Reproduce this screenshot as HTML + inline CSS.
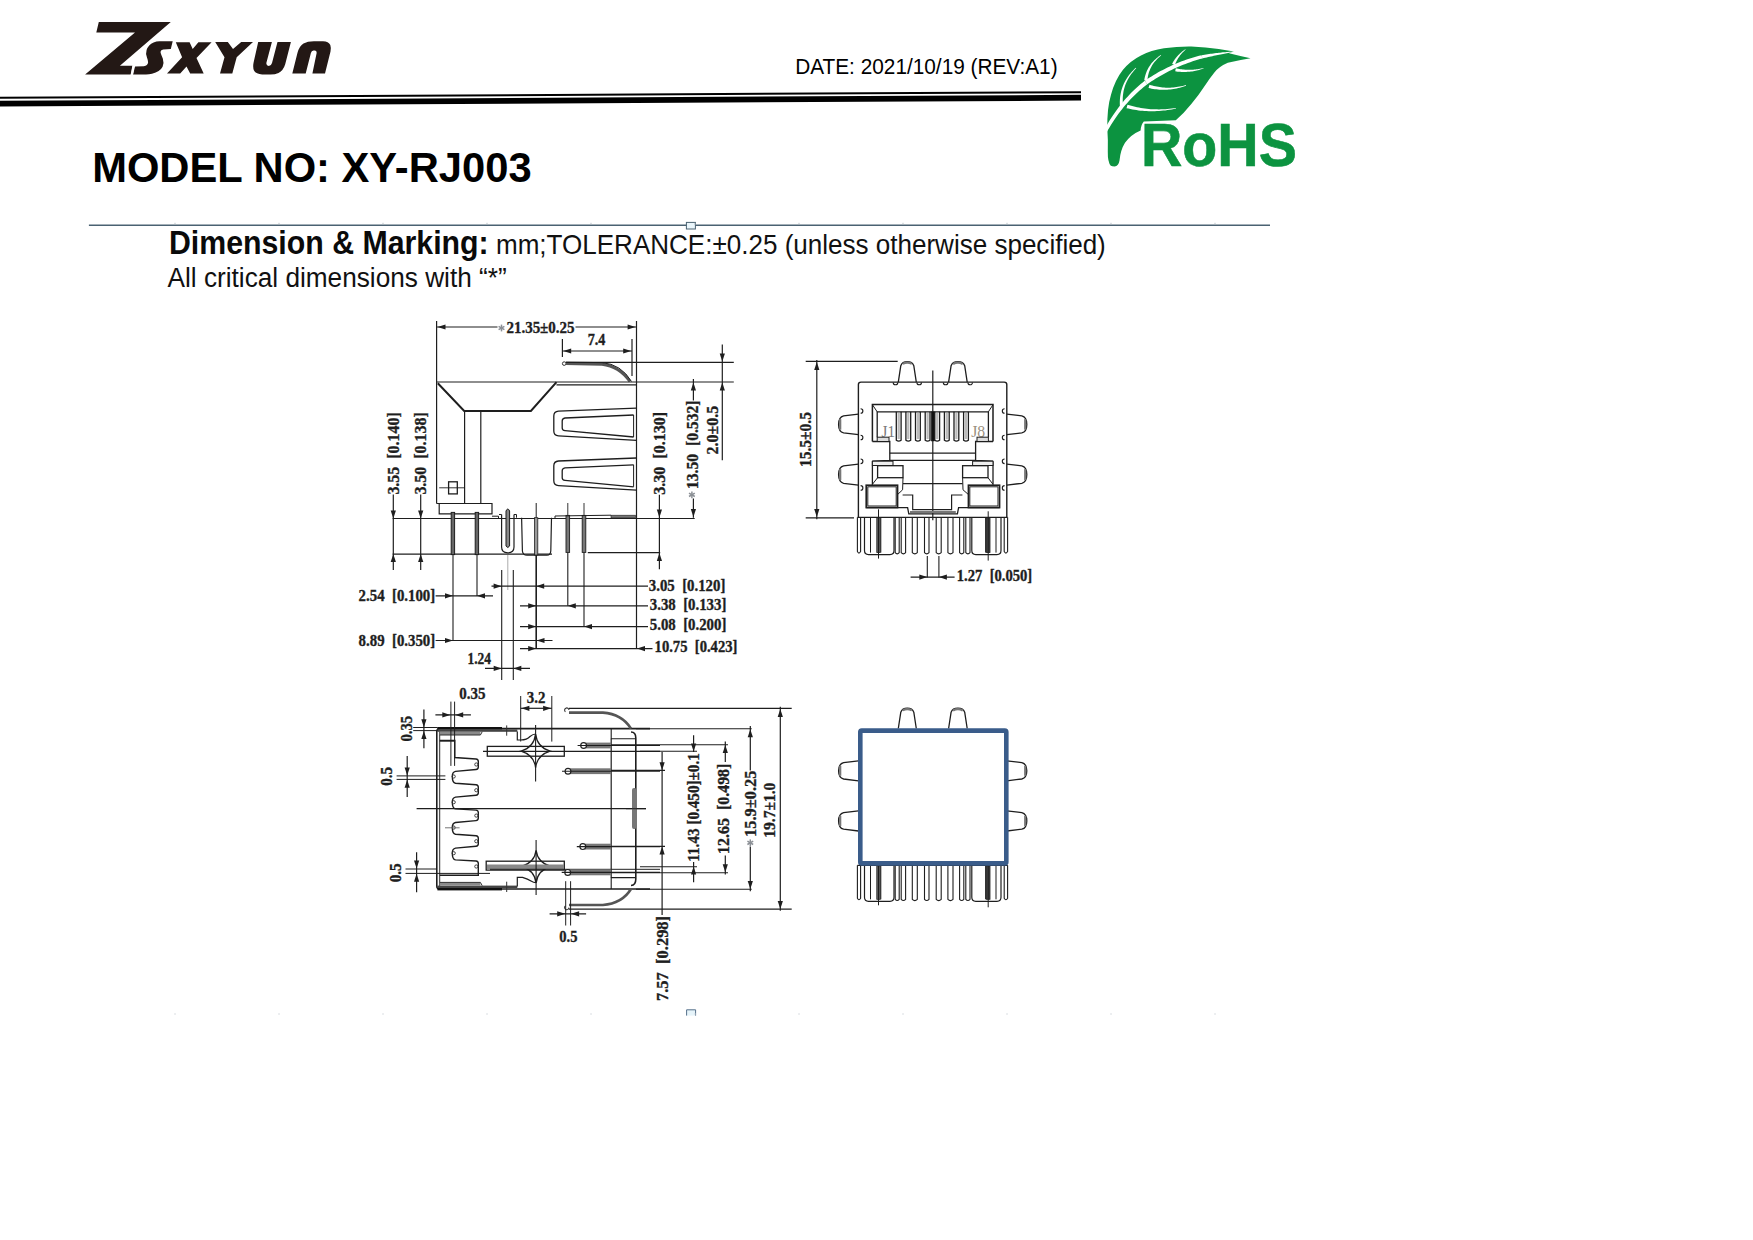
<!DOCTYPE html>
<html><head><meta charset="utf-8"><title>XY-RJ003</title>
<style>
html,body{margin:0;padding:0;background:#fff;}
body{width:1753px;height:1240px;position:relative;overflow:hidden;font-family:"Liberation Sans",sans-serif;}
svg{position:absolute;left:0;top:0;}
.t{position:absolute;white-space:nowrap;color:#000;line-height:1;}
</style></head><body>
<svg width="1753" height="1240" viewBox="0 0 1753 1240">
<polygon fill="#231815" points="98.8,21.9 170.8,21.9 119.9,65.8 132.6,65.8 130.9,74.6 85.1,74.6 135.0,32.5 96.3,32.5"/>
<polygon fill="#231815" points="175.8,42.2 189.6,42.2 192.7,49.1 198.4,42.2 211.6,42.2 196.5,57.9 203.7,73.6 190.2,73.6 186.5,66.4 180.2,73.6 167.0,73.6 182.1,57.3"/>
<polygon fill="#231815" points="215.2,42.0 227.8,42.0 233.0,49.1 241.2,42.0 253.0,42.0 236.7,57.3 232.3,73.6 220.0,73.6 224.5,57.3"/>
<path fill="#231815" d="M159.5,41.3 L172.7,41.3 L170.8,49.1 L163.2,49.4 Q160.3,49.9 160.6,52.8 Q161.2,55 162.8,58.5 Q164.2,62.5 162.6,66.8 Q160,71.8 152,73.8 Q149,74.5 146,74.5 L133.1,74.5 L135.0,66.4 L143.8,66.2 Q147.8,65.6 148.1,62.6 Q148,60 146.9,57.2 Q145.5,53.5 146.6,50 Q148.3,44.8 153.6,42.5 Q156.3,41.4 159.5,41.3 Z"/>
<path fill="#231815" d="M258.2,42.0 L271.9,42.0 L266.4,62.8 Q266,65.8 268.8,65.9 Q271.3,65.8 272,63 L277.5,42.0 L290.9,42.0 L285.2,64.3 Q283.4,70.5 278.5,72.9 Q275,74.4 270.5,74.4 L262.2,74.4 Q256.2,74.2 254,70.5 Q252.6,67.5 253.6,62.5 Z"/>
<path fill="#231815" d="M292.3,73.6 L297.5,52.8 Q299.5,46 303.5,43.6 Q307.5,41.3 313.9,41.3 L323.0,41.3 Q328.6,41.5 330.3,45 Q331.3,48 330.5,51.5 L325.0,73.6 L312.4,73.6 L316.6,53.2 Q316.9,50.6 314.6,50.6 L313.5,50.6 Q311.5,50.7 310.9,53 L305.7,73.6 Z"/>
<polygon fill="#fff" points="132.4,65.6 134.6,65.6 132.8,75 130.6,75"/>
<polygon fill="#000" points="0,96.8 1081,91.2 1081,93.2 0,98.8"/>
<polygon fill="#000" points="0,100.8 1081,94.8 1081,100.6 0,106.4"/>
<path fill="#0c9340" d="M1110.8,165.8 Q1107.6,162 1107.8,152 Q1108.2,140 1107.3,128.5 Q1107,108 1111,94.8 Q1115,80 1122.8,70.1 Q1130,61 1141,55.5 Q1151,50 1164,48.2 Q1178,46.2 1191.3,46.4 Q1206,47 1218.7,49.1 Q1226,50.5 1234,51.6 L1229,53.2 Q1238,55.5 1250.5,58.2 Q1239,60 1227.8,62.8 Q1219,66.5 1214,72.9 Q1209,79 1205,85.6 Q1199,95 1191.3,103.9 Q1184,113 1175.8,120.3 L1143.8,121.5 Q1141,124.5 1140.6,130.5 Q1131,134.5 1125,142.8 Q1120.5,150 1119.5,160.5 Q1118.6,166.2 1114.6,166.4 Q1112,166.4 1110.8,165.8 Z"/>
<polygon fill="#ffffff" points="1106.99,131.82 1108.38,129.37 1109.80,126.96 1111.24,124.59 1112.71,122.27 1114.20,119.98 1115.72,117.74 1117.26,115.53 1118.83,113.36 1120.42,111.24 1122.04,109.16 1123.68,107.11 1125.35,105.11 1127.05,103.15 1128.76,101.22 1130.51,99.34 1132.27,97.50 1134.07,95.70 1135.88,93.93 1137.73,92.21 1139.59,90.53 1141.49,88.89 1143.40,87.29 1145.35,85.72 1147.31,84.20 1144.69,80.80 1142.68,82.40 1140.70,84.04 1138.75,85.72 1136.82,87.44 1134.92,89.20 1133.05,91.00 1131.21,92.84 1129.39,94.72 1127.60,96.64 1125.84,98.60 1124.11,100.60 1122.40,102.64 1120.72,104.72 1119.06,106.84 1117.44,108.99 1115.84,111.19 1114.26,113.43 1112.72,115.70 1111.20,118.02 1109.71,120.37 1108.24,122.76 1106.81,125.20 1105.39,127.67 1104.01,130.18"/>
<polygon fill="#ffffff" points="1147.22,84.27 1149.36,82.79 1151.51,81.34 1153.68,79.93 1155.86,78.56 1158.05,77.22 1160.26,75.91 1162.48,74.64 1164.72,73.41 1166.97,72.21 1169.23,71.05 1171.51,69.92 1173.80,68.82 1176.11,67.77 1178.43,66.74 1180.77,65.76 1183.11,64.80 1185.48,63.88 1187.86,63.00 1190.25,62.15 1192.65,61.34 1195.07,60.57 1197.51,59.82 1199.96,59.12 1202.42,58.45 1201.58,55.15 1199.06,55.80 1196.55,56.49 1194.05,57.21 1191.57,57.96 1189.10,58.76 1186.64,59.59 1184.20,60.45 1181.77,61.35 1179.36,62.29 1176.96,63.27 1174.57,64.28 1172.20,65.33 1169.84,66.41 1167.49,67.53 1165.16,68.69 1162.84,69.88 1160.53,71.11 1158.24,72.37 1155.96,73.68 1153.70,75.02 1151.45,76.39 1149.21,77.80 1146.99,79.25 1144.78,80.73"/>
<polygon fill="#ffffff" points="1202.33,58.47 1203.81,58.11 1205.27,57.77 1206.72,57.43 1208.16,57.09 1209.58,56.77 1210.99,56.45 1212.38,56.14 1213.76,55.84 1215.13,55.55 1216.48,55.26 1217.82,54.98 1219.15,54.71 1220.46,54.45 1221.76,54.19 1223.05,53.95 1224.32,53.70 1225.58,53.47 1226.83,53.24 1228.06,53.03 1229.28,52.82 1230.49,52.61 1231.68,52.42 1232.86,52.23 1234.02,52.05 1233.98,51.55 1232.79,51.61 1231.60,51.68 1230.39,51.76 1229.16,51.84 1227.92,51.93 1226.67,52.03 1225.40,52.14 1224.12,52.25 1222.82,52.37 1221.51,52.50 1220.19,52.64 1218.85,52.79 1217.50,52.94 1216.13,53.10 1214.75,53.27 1213.35,53.45 1211.94,53.63 1210.51,53.82 1209.07,54.02 1207.62,54.23 1206.15,54.44 1204.67,54.66 1203.18,54.90 1201.67,55.13"/>
<polygon fill="#ffffff" points="1123.09,105.86 1122.91,104.09 1122.79,102.34 1122.73,100.61 1122.74,98.91 1122.80,97.21 1122.93,95.54 1123.13,93.88 1123.38,92.24 1123.70,90.62 1124.08,89.01 1124.53,87.42 1125.04,85.85 1125.61,84.29 1126.25,82.75 1126.95,81.22 1127.72,79.72 1128.55,78.22 1129.45,76.75 1130.42,75.29 1131.45,73.85 1132.55,72.42 1133.71,71.01 1134.95,69.62 1136.24,68.25 1135.76,67.75 1134.37,69.06 1133.04,70.40 1131.78,71.77 1130.58,73.15 1129.44,74.57 1128.36,76.00 1127.34,77.46 1126.39,78.95 1125.50,80.46 1124.68,82.00 1123.91,83.56 1123.21,85.15 1122.58,86.77 1122.01,88.41 1121.50,90.07 1121.06,91.76 1120.69,93.47 1120.38,95.21 1120.14,96.97 1119.96,98.76 1119.85,100.57 1119.80,102.41 1119.82,104.26 1119.91,106.14"/>
<polygon fill="#ffffff" points="1147.39,80.67 1147.49,79.44 1147.63,78.22 1147.81,77.02 1148.04,75.83 1148.30,74.66 1148.60,73.51 1148.94,72.37 1149.32,71.25 1149.75,70.14 1150.21,69.05 1150.72,67.97 1151.26,66.91 1151.85,65.87 1152.49,64.84 1153.16,63.83 1153.88,62.83 1154.64,61.85 1155.44,60.88 1156.29,59.94 1157.18,59.00 1158.11,58.09 1159.09,57.19 1160.11,56.31 1161.18,55.44 1160.82,54.96 1159.68,55.75 1158.57,56.56 1157.50,57.39 1156.48,58.25 1155.48,59.13 1154.53,60.03 1153.62,60.95 1152.74,61.90 1151.91,62.87 1151.11,63.87 1150.35,64.89 1149.64,65.94 1148.96,67.00 1148.32,68.10 1147.72,69.21 1147.17,70.35 1146.65,71.52 1146.18,72.71 1145.74,73.92 1145.35,75.15 1145.00,76.41 1144.70,77.69 1144.43,79.00 1144.21,80.33"/>
<polygon fill="#ffffff" points="1174.89,65.07 1175.13,64.38 1175.38,63.69 1175.66,63.00 1175.95,62.32 1176.26,61.65 1176.58,60.97 1176.93,60.30 1177.29,59.64 1177.68,58.98 1178.08,58.32 1178.50,57.67 1178.94,57.02 1179.39,56.38 1179.87,55.74 1180.36,55.10 1180.87,54.47 1181.41,53.84 1181.96,53.22 1182.52,52.60 1183.11,51.99 1183.72,51.39 1184.35,50.78 1184.99,50.19 1185.65,49.60 1185.35,49.20 1184.61,49.72 1183.89,50.24 1183.19,50.77 1182.50,51.31 1181.83,51.86 1181.17,52.42 1180.53,52.98 1179.90,53.55 1179.30,54.13 1178.70,54.72 1178.13,55.32 1177.56,55.93 1177.02,56.55 1176.49,57.17 1175.98,57.81 1175.48,58.45 1175.00,59.10 1174.54,59.76 1174.09,60.43 1173.66,61.11 1173.25,61.80 1172.85,62.50 1172.48,63.21 1172.11,63.93"/>
<polygon fill="#ffffff" points="1148.53,87.93 1150.09,88.30 1151.64,88.63 1153.20,88.92 1154.76,89.16 1156.33,89.37 1157.89,89.53 1159.45,89.66 1161.01,89.74 1162.58,89.78 1164.14,89.79 1165.71,89.75 1167.27,89.67 1168.84,89.56 1170.41,89.40 1171.97,89.21 1173.54,88.97 1175.11,88.70 1176.67,88.38 1178.24,88.03 1179.81,87.64 1181.38,87.21 1182.95,86.74 1184.52,86.23 1186.09,85.69 1185.91,85.11 1184.32,85.55 1182.73,85.94 1181.15,86.29 1179.58,86.60 1178.01,86.87 1176.45,87.10 1174.90,87.30 1173.35,87.45 1171.81,87.57 1170.27,87.64 1168.75,87.68 1167.23,87.68 1165.71,87.63 1164.20,87.56 1162.70,87.44 1161.21,87.28 1159.72,87.09 1158.24,86.86 1156.76,86.58 1155.29,86.28 1153.83,85.93 1152.37,85.55 1150.92,85.13 1149.47,84.67"/>
<polygon fill="#ffffff" points="1126.50,108.13 1128.48,108.61 1130.46,109.05 1132.45,109.45 1134.44,109.81 1136.45,110.12 1138.46,110.40 1140.49,110.64 1142.51,110.84 1144.55,110.99 1146.60,111.11 1148.65,111.19 1150.71,111.22 1152.78,111.22 1154.85,111.18 1156.94,111.10 1159.03,110.98 1161.13,110.82 1163.24,110.62 1165.35,110.38 1167.48,110.10 1169.61,109.78 1171.75,109.43 1173.90,109.03 1176.05,108.60 1175.95,108.00 1173.78,108.31 1171.63,108.58 1169.48,108.81 1167.36,109.01 1165.24,109.16 1163.14,109.27 1161.05,109.34 1158.97,109.38 1156.91,109.37 1154.85,109.33 1152.82,109.25 1150.79,109.13 1148.78,108.97 1146.78,108.77 1144.79,108.53 1142.82,108.25 1140.86,107.94 1138.91,107.59 1136.98,107.20 1135.06,106.77 1133.15,106.30 1131.25,105.79 1129.37,105.25 1127.50,104.67"/>
<polygon fill="#ffffff" points="1175.21,71.37 1176.45,71.54 1177.69,71.67 1178.93,71.79 1180.16,71.87 1181.38,71.93 1182.60,71.97 1183.82,71.98 1185.03,71.97 1186.23,71.93 1187.43,71.87 1188.62,71.79 1189.80,71.67 1190.98,71.54 1192.16,71.38 1193.33,71.19 1194.49,70.98 1195.64,70.75 1196.79,70.49 1197.94,70.21 1199.08,69.90 1200.21,69.57 1201.34,69.22 1202.46,68.84 1203.58,68.44 1203.42,67.96 1202.29,68.25 1201.15,68.52 1200.01,68.76 1198.87,68.98 1197.72,69.17 1196.58,69.33 1195.44,69.48 1194.29,69.60 1193.14,69.69 1192.00,69.76 1190.85,69.81 1189.70,69.83 1188.55,69.82 1187.39,69.80 1186.24,69.75 1185.09,69.67 1183.93,69.57 1182.77,69.45 1181.61,69.31 1180.45,69.14 1179.29,68.95 1178.13,68.73 1176.96,68.49 1175.79,68.23"/>
<text x="1140.9" y="166.1" font-family="Liberation Sans" font-weight="bold" font-size="61.2" fill="#0c9340" stroke="#0c9340" stroke-width="0.6" textLength="156" lengthAdjust="spacingAndGlyphs">RoHS</text>
<text x="795.2" y="74.3" font-family="Liberation Sans" font-weight="normal" font-size="20.8" fill="#000" transform="matrix(1,0,0,1.04,0,-2.972)">DATE: 2021/10/19 (REV:A1)</text>
<text x="92.2" y="182.0" font-family="Liberation Sans" font-weight="bold" font-size="41.7" fill="#000" transform="matrix(1,0,0,1.04,0,-7.280)">MODEL NO: XY-RJ003</text>
<text x="169.0" y="253.6" font-family="Liberation Sans" font-weight="bold" font-size="30.3" fill="#0a0a0a" transform="matrix(1,0,0,1.08,0,-20.288)">Dimension &amp; Marking:</text>
<text x="496.0" y="254.0" font-family="Liberation Sans" font-weight="normal" font-size="26.05" fill="#111" transform="matrix(1,0,0,1.05,0,-12.700)">mm;TOLERANCE:±0.25 (unless otherwise specified)</text>
<text x="167.5" y="287.3" font-family="Liberation Sans" font-weight="normal" font-size="26.2" fill="#111" transform="matrix(1,0,0,1.05,0,-14.365)">All critical dimensions with “*”</text>
<line x1="88.9" y1="225.3" x2="1270" y2="225.3" stroke="#4a6272" stroke-width="1.6"/>
<rect x="686.4" y="222.4" width="9" height="6.6" fill="#eaf6fb" stroke="#4a6272" stroke-width="1"/>
<path d="M686.6,1015.6 L686.6,1009.8 L695.6,1009.8 L695.6,1015.6" fill="#e6f4fa" stroke="#55708a" stroke-width="1"/>
<line x1="175" y1="222.8" x2="175" y2="225" stroke="#aab4bb" stroke-width="0.8"/>
<line x1="175" y1="1013" x2="175" y2="1015" stroke="#d0d6da" stroke-width="0.8"/>
<line x1="279" y1="222.8" x2="279" y2="225" stroke="#aab4bb" stroke-width="0.8"/>
<line x1="279" y1="1013" x2="279" y2="1015" stroke="#d0d6da" stroke-width="0.8"/>
<line x1="383" y1="222.8" x2="383" y2="225" stroke="#aab4bb" stroke-width="0.8"/>
<line x1="383" y1="1013" x2="383" y2="1015" stroke="#d0d6da" stroke-width="0.8"/>
<line x1="487" y1="222.8" x2="487" y2="225" stroke="#aab4bb" stroke-width="0.8"/>
<line x1="487" y1="1013" x2="487" y2="1015" stroke="#d0d6da" stroke-width="0.8"/>
<line x1="591" y1="222.8" x2="591" y2="225" stroke="#aab4bb" stroke-width="0.8"/>
<line x1="591" y1="1013" x2="591" y2="1015" stroke="#d0d6da" stroke-width="0.8"/>
<line x1="695" y1="222.8" x2="695" y2="225" stroke="#aab4bb" stroke-width="0.8"/>
<line x1="695" y1="1013" x2="695" y2="1015" stroke="#d0d6da" stroke-width="0.8"/>
<line x1="799" y1="222.8" x2="799" y2="225" stroke="#aab4bb" stroke-width="0.8"/>
<line x1="799" y1="1013" x2="799" y2="1015" stroke="#d0d6da" stroke-width="0.8"/>
<line x1="903" y1="222.8" x2="903" y2="225" stroke="#aab4bb" stroke-width="0.8"/>
<line x1="903" y1="1013" x2="903" y2="1015" stroke="#d0d6da" stroke-width="0.8"/>
<line x1="1007" y1="222.8" x2="1007" y2="225" stroke="#aab4bb" stroke-width="0.8"/>
<line x1="1007" y1="1013" x2="1007" y2="1015" stroke="#d0d6da" stroke-width="0.8"/>
<line x1="1111" y1="222.8" x2="1111" y2="225" stroke="#aab4bb" stroke-width="0.8"/>
<line x1="1111" y1="1013" x2="1111" y2="1015" stroke="#d0d6da" stroke-width="0.8"/>
<line x1="1215" y1="222.8" x2="1215" y2="225" stroke="#aab4bb" stroke-width="0.8"/>
<line x1="1215" y1="1013" x2="1215" y2="1015" stroke="#d0d6da" stroke-width="0.8"/>
<line x1="436.6" y1="321.0" x2="436.6" y2="503.5" stroke="#1e1e1e" stroke-width="1.2"/>
<line x1="636.5" y1="321.0" x2="636.5" y2="648.6" stroke="#1e1e1e" stroke-width="1.2"/>
<line x1="436.6" y1="327.0" x2="497.5" y2="327.0" stroke="#1e1e1e" stroke-width="1.2"/>
<line x1="575.5" y1="327.0" x2="636.5" y2="327.0" stroke="#1e1e1e" stroke-width="1.2"/>
<polygon points="437.5,327.0 445.5,324.4 445.5,329.6" fill="#1e1e1e"/>
<polygon points="635.6,327.0 627.6,329.6 627.6,324.4" fill="#1e1e1e"/>
<text x="506.4" y="332.8" font-family="Liberation Serif" font-weight="bold" font-size="16.6" fill="#1e1e1e" stroke="#1e1e1e" stroke-width="0.35" text-anchor="start" textLength="68.2" lengthAdjust="spacingAndGlyphs">21.35±0.25</text>
<line x1="501.5" y1="324.6" x2="501.5" y2="331.4" stroke="#8c9096" stroke-width="1.5"/>
<line x1="498.6" y1="326.3" x2="504.4" y2="329.7" stroke="#8c9096" stroke-width="1.5"/>
<line x1="504.4" y1="326.3" x2="498.6" y2="329.7" stroke="#8c9096" stroke-width="1.5"/>
<line x1="562.4" y1="339.0" x2="562.4" y2="357.0" stroke="#1e1e1e" stroke-width="1.2"/>
<line x1="632.0" y1="339.0" x2="632.0" y2="376.0" stroke="#1e1e1e" stroke-width="1.2"/>
<line x1="562.4" y1="351.0" x2="632.0" y2="351.0" stroke="#1e1e1e" stroke-width="1.2"/>
<polygon points="563.2,351.0 571.2,348.4 571.2,353.6" fill="#1e1e1e"/>
<polygon points="631.2,351.0 623.2,353.6 623.2,348.4" fill="#1e1e1e"/>
<text x="587.7" y="344.7" font-family="Liberation Serif" font-weight="bold" font-size="16.6" fill="#1e1e1e" stroke="#1e1e1e" stroke-width="0.35" text-anchor="start" textLength="17.6" lengthAdjust="spacingAndGlyphs">7.4</text>
<circle cx="564.2" cy="363.6" r="1.8" fill="none" stroke="#333" stroke-width="1"/>
<path d="M565.8,363.4 L602,364.2 Q619,366 630,381.5" fill="none" stroke="#555" stroke-width="3.0"/>
<path d="M565.8,362.2 L602,362.6 Q621,364 631.5,381.5" fill="none" stroke="#222" stroke-width="1"/>
<line x1="566.0" y1="362.3" x2="733.8" y2="362.3" stroke="#1e1e1e" stroke-width="1.2"/>
<line x1="436.6" y1="382.0" x2="733.8" y2="382.0" stroke="#1e1e1e" stroke-width="1.2"/>
<line x1="556.5" y1="384.9" x2="636.5" y2="384.9" stroke="#1e1e1e" stroke-width="1.2"/>
<polyline points="437.8,383.3 464.2,411.0 530.9,411.0 556.5,382.2" fill="none" stroke="#1e1e1e" stroke-width="2.0"/>
<line x1="464.6" y1="411.0" x2="464.6" y2="503.5" stroke="#1e1e1e" stroke-width="1.2"/>
<line x1="480.8" y1="411.0" x2="480.8" y2="503.5" stroke="#1e1e1e" stroke-width="1.2"/>
<polyline points="436.6,503.5 492.0,503.5 492.0,513.8 439.2,513.8 439.2,503.5" fill="none" stroke="#1e1e1e" stroke-width="1.2"/>
<rect x="448.6" y="481.8" width="8.7" height="12.1" fill="none" stroke="#1e1e1e" stroke-width="1.3"/>
<line x1="448.6" y1="487.8" x2="457.3" y2="487.8" stroke="#1e1e1e" stroke-width="0.9"/>
<line x1="439.2" y1="487.8" x2="448.6" y2="487.8" stroke="#1e1e1e" stroke-width="0.9"/>
<line x1="457.3" y1="487.8" x2="464.3" y2="487.8" stroke="#1e1e1e" stroke-width="0.9"/>
<path d="M636.5,408.2 L558.5,411.2 Q553.8,411.6 553.8,416 L553.8,431 Q553.8,435.6 558.5,435.8 L636.5,440.3" fill="none" stroke="#1e1e1e" stroke-width="1.3"/>
<path d="M633.6,415 L565,418 Q562.2,418.4 562.2,421 L562.2,428 Q562.2,430.4 565,430.6 L633.6,437" fill="none" stroke="#1e1e1e" stroke-width="1.3"/>
<line x1="633.6" y1="415.0" x2="633.6" y2="437.0" stroke="#1e1e1e" stroke-width="1"/>
<path d="M636.5,458.0 L558.5,461.0 Q553.8,461.40000000000003 553.8,465.8 L553.8,480.8 Q553.8,485.40000000000003 558.5,485.6 L636.5,490.1" fill="none" stroke="#1e1e1e" stroke-width="1.3"/>
<path d="M633.6,464.8 L565,467.8 Q562.2,468.2 562.2,470.8 L562.2,477.8 Q562.2,480.2 565,480.40000000000003 L633.6,486.8" fill="none" stroke="#1e1e1e" stroke-width="1.3"/>
<line x1="633.6" y1="464.8" x2="633.6" y2="486.8" stroke="#1e1e1e" stroke-width="1"/>
<line x1="693.4" y1="379.0" x2="693.4" y2="400.5" stroke="#1e1e1e" stroke-width="1.2"/>
<line x1="693.4" y1="498.5" x2="693.4" y2="517.7" stroke="#1e1e1e" stroke-width="1.2"/>
<polygon points="693.4,382.5 696.0,390.5 690.8,390.5" fill="#1e1e1e"/>
<polygon points="693.4,517.0 690.8,509.0 696.0,509.0" fill="#1e1e1e"/>
<text x="698.4" y="489.0" font-family="Liberation Serif" font-weight="bold" font-size="16.6" fill="#1e1e1e" stroke="#1e1e1e" stroke-width="0.35" textLength="88.5" lengthAdjust="spacingAndGlyphs" transform="rotate(-90 698.4 489.0)">13.50&#160;&#160;[0.532]</text>
<line x1="691.9" y1="491.4" x2="691.9" y2="498.2" stroke="#8c9096" stroke-width="1.5"/>
<line x1="689.0" y1="493.1" x2="694.8" y2="496.5" stroke="#8c9096" stroke-width="1.5"/>
<line x1="694.8" y1="493.1" x2="689.0" y2="496.5" stroke="#8c9096" stroke-width="1.5"/>
<line x1="722.3" y1="344.6" x2="722.3" y2="460.3" stroke="#1e1e1e" stroke-width="1.2"/>
<polygon points="722.3,361.5 719.7,353.5 724.9,353.5" fill="#1e1e1e"/>
<polygon points="722.3,382.5 724.9,390.5 719.7,390.5" fill="#1e1e1e"/>
<text x="717.7" y="454.4" font-family="Liberation Serif" font-weight="bold" font-size="16.6" fill="#1e1e1e" stroke="#1e1e1e" stroke-width="0.35" textLength="48.7" lengthAdjust="spacingAndGlyphs" transform="rotate(-90 717.7 454.4)">2.0±0.5</text>
<line x1="659.4" y1="494.7" x2="659.4" y2="569.3" stroke="#1e1e1e" stroke-width="1.2"/>
<polygon points="659.4,517.5 656.8,509.5 662.0,509.5" fill="#1e1e1e"/>
<polygon points="659.4,553.0 662.0,561.0 656.8,561.0" fill="#1e1e1e"/>
<text x="664.7" y="494.7" font-family="Liberation Serif" font-weight="bold" font-size="16.6" fill="#1e1e1e" stroke="#1e1e1e" stroke-width="0.35" textLength="82.7" lengthAdjust="spacingAndGlyphs" transform="rotate(-90 664.7 494.7)">3.30&#160;&#160;[0.130]</text>
<line x1="393.3" y1="494.6" x2="393.3" y2="570.0" stroke="#1e1e1e" stroke-width="1.2"/>
<polygon points="393.3,518.5 390.7,510.5 395.9,510.5" fill="#1e1e1e"/>
<polygon points="393.3,554.0 395.9,562.0 390.7,562.0" fill="#1e1e1e"/>
<text x="398.6" y="494.6" font-family="Liberation Serif" font-weight="bold" font-size="16.6" fill="#1e1e1e" stroke="#1e1e1e" stroke-width="0.35" textLength="82.3" lengthAdjust="spacingAndGlyphs" transform="rotate(-90 398.6 494.6)">3.55&#160;&#160;[0.140]</text>
<line x1="420.7" y1="494.6" x2="420.7" y2="570.0" stroke="#1e1e1e" stroke-width="1.2"/>
<polygon points="420.7,518.5 418.1,510.5 423.3,510.5" fill="#1e1e1e"/>
<polygon points="420.7,554.0 423.3,562.0 418.1,562.0" fill="#1e1e1e"/>
<text x="426.0" y="494.6" font-family="Liberation Serif" font-weight="bold" font-size="16.6" fill="#1e1e1e" stroke="#1e1e1e" stroke-width="0.35" textLength="82.3" lengthAdjust="spacingAndGlyphs" transform="rotate(-90 426.0 494.6)">3.50&#160;&#160;[0.138]</text>
<line x1="392.6" y1="518.5" x2="694.7" y2="518.5" stroke="#1e1e1e" stroke-width="1.2"/>
<line x1="392.6" y1="554.2" x2="552.0" y2="554.2" stroke="#1e1e1e" stroke-width="1.2"/>
<line x1="587.8" y1="552.6" x2="660.2" y2="552.6" stroke="#1e1e1e" stroke-width="1.2"/>
<rect x="611.0" y="515.2" width="24.5" height="2.6" fill="#777" stroke="#1e1e1e" stroke-width="0.6"/>
<rect x="451.2" y="512.4" width="3.4" height="42.2" fill="#666" stroke="#1e1e1e" stroke-width="1"/>
<rect x="475.2" y="512.4" width="3.4" height="42.2" fill="#666" stroke="#1e1e1e" stroke-width="1"/>
<path d="M501.6,514.5 L501.6,547 Q501.6,552.8 507.8,552.8 Q514,552.8 514,547 L514,514.5" fill="none" stroke="#1e1e1e" stroke-width="1.2"/>
<path d="M506,511 L506,546 Q507.8,549 509.6,546 L509.6,511 Q507.8,507 506,511 Z" fill="#888" stroke="#1e1e1e" stroke-width="1"/>
<path d="M499,514.5 L501.6,514.5 M514,514.5 L516.5,514.5 L516.5,517.7" fill="none" stroke="#1e1e1e" stroke-width="1"/>
<path d="M521.6,517.7 L522.4,551 Q522.8,555.2 527,555.2 L547,555.2 Q550.5,555.2 550.8,551 L551.5,517.7" fill="none" stroke="#1e1e1e" stroke-width="1.2"/>
<line x1="536.2" y1="503.0" x2="536.2" y2="555.0" stroke="#1e1e1e" stroke-width="1.0"/>
<rect x="534.6" y="517.7" width="3.2" height="37.3" fill="#999" stroke="#1e1e1e" stroke-width="0.8"/>
<line x1="536.2" y1="555.0" x2="536.2" y2="648.6" stroke="#1e1e1e" stroke-width="1.6"/>
<line x1="567.8" y1="503.0" x2="567.8" y2="515.4" stroke="#1e1e1e" stroke-width="0.9"/>
<rect x="566.0" y="515.4" width="3.6" height="37.0" fill="#777" stroke="#1e1e1e" stroke-width="0.9"/>
<line x1="584.0" y1="503.0" x2="584.0" y2="515.4" stroke="#1e1e1e" stroke-width="0.9"/>
<rect x="582.2" y="515.4" width="3.6" height="37.0" fill="#777" stroke="#1e1e1e" stroke-width="0.9"/>
<polyline points="492.0,516.2 498.5,516.2 498.5,518.5" fill="none" stroke="#1e1e1e" stroke-width="1"/>
<polyline points="555.0,518.5 555.0,516.0 611.0,515.2" fill="none" stroke="#1e1e1e" stroke-width="1"/>
<line x1="453.0" y1="555.0" x2="453.0" y2="640.5" stroke="#1e1e1e" stroke-width="1.1"/>
<line x1="477.0" y1="555.0" x2="477.0" y2="596.0" stroke="#1e1e1e" stroke-width="1.1"/>
<line x1="501.7" y1="570.0" x2="501.7" y2="680.0" stroke="#1e1e1e" stroke-width="1.1"/>
<line x1="513.3" y1="570.0" x2="513.3" y2="680.0" stroke="#1e1e1e" stroke-width="1.1"/>
<line x1="567.8" y1="552.4" x2="567.8" y2="605.8" stroke="#1e1e1e" stroke-width="1.1"/>
<line x1="584.0" y1="552.4" x2="584.0" y2="626.6" stroke="#1e1e1e" stroke-width="1.1"/>
<line x1="507.8" y1="555.0" x2="507.8" y2="590.0" stroke="#888" stroke-width="0.7"/>
<line x1="435.6" y1="595.8" x2="493.0" y2="595.8" stroke="#1e1e1e" stroke-width="1.2"/>
<polygon points="453.0,595.8 445.0,598.4 445.0,593.2" fill="#1e1e1e"/>
<polygon points="477.0,595.8 485.0,593.2 485.0,598.4" fill="#1e1e1e"/>
<text x="358.6" y="600.6" font-family="Liberation Serif" font-weight="bold" font-size="16.6" fill="#1e1e1e" stroke="#1e1e1e" stroke-width="0.35" text-anchor="start" textLength="76.6" lengthAdjust="spacingAndGlyphs">2.54&#160;&#160;[0.100]</text>
<line x1="435.6" y1="640.5" x2="552.5" y2="640.5" stroke="#1e1e1e" stroke-width="1.2"/>
<polygon points="453.0,640.5 445.0,643.1 445.0,637.9" fill="#1e1e1e"/>
<polygon points="536.5,640.5 544.5,637.9 544.5,643.1" fill="#1e1e1e"/>
<text x="358.6" y="645.5" font-family="Liberation Serif" font-weight="bold" font-size="16.6" fill="#1e1e1e" stroke="#1e1e1e" stroke-width="0.35" text-anchor="start" textLength="76.6" lengthAdjust="spacingAndGlyphs">8.89&#160;&#160;[0.350]</text>
<line x1="485.0" y1="668.4" x2="530.0" y2="668.4" stroke="#1e1e1e" stroke-width="1.2"/>
<polygon points="501.7,668.4 493.7,671.0 493.7,665.8" fill="#1e1e1e"/>
<polygon points="513.3,668.4 521.3,665.8 521.3,671.0" fill="#1e1e1e"/>
<text x="467.4" y="664.0" font-family="Liberation Serif" font-weight="bold" font-size="16.6" fill="#1e1e1e" stroke="#1e1e1e" stroke-width="0.35" text-anchor="start" textLength="23.6" lengthAdjust="spacingAndGlyphs">1.24</text>
<line x1="491.5" y1="586.2" x2="648.0" y2="586.2" stroke="#1e1e1e" stroke-width="1.2"/>
<polygon points="501.6,586.2 493.6,588.8 493.6,583.6" fill="#1e1e1e"/>
<polygon points="536.2,586.2 544.2,583.6 544.2,588.8" fill="#1e1e1e"/>
<text x="648.8" y="590.7" font-family="Liberation Serif" font-weight="bold" font-size="16.6" fill="#1e1e1e" stroke="#1e1e1e" stroke-width="0.35" text-anchor="start" textLength="76.6" lengthAdjust="spacingAndGlyphs">3.05&#160;&#160;[0.120]</text>
<line x1="520.0" y1="605.8" x2="648.0" y2="605.8" stroke="#1e1e1e" stroke-width="1.2"/>
<polygon points="536.2,605.8 528.2,608.4 528.2,603.2" fill="#1e1e1e"/>
<polygon points="567.8,605.8 575.8,603.2 575.8,608.4" fill="#1e1e1e"/>
<text x="649.8" y="610.0" font-family="Liberation Serif" font-weight="bold" font-size="16.6" fill="#1e1e1e" stroke="#1e1e1e" stroke-width="0.35" text-anchor="start" textLength="76.6" lengthAdjust="spacingAndGlyphs">3.38&#160;&#160;[0.133]</text>
<line x1="520.0" y1="626.6" x2="648.0" y2="626.6" stroke="#1e1e1e" stroke-width="1.2"/>
<polygon points="536.2,626.6 528.2,629.2 528.2,624.0" fill="#1e1e1e"/>
<polygon points="584.0,626.6 592.0,624.0 592.0,629.2" fill="#1e1e1e"/>
<text x="649.8" y="630.2" font-family="Liberation Serif" font-weight="bold" font-size="16.6" fill="#1e1e1e" stroke="#1e1e1e" stroke-width="0.35" text-anchor="start" textLength="76.6" lengthAdjust="spacingAndGlyphs">5.08&#160;&#160;[0.200]</text>
<line x1="520.0" y1="648.6" x2="652.5" y2="648.6" stroke="#1e1e1e" stroke-width="1.2"/>
<polygon points="536.2,648.6 528.2,651.2 528.2,646.0" fill="#1e1e1e"/>
<polygon points="637.0,648.6 645.0,646.0 645.0,651.2" fill="#1e1e1e"/>
<text x="654.6" y="652.4" font-family="Liberation Serif" font-weight="bold" font-size="16.6" fill="#1e1e1e" stroke="#1e1e1e" stroke-width="0.35" text-anchor="start" textLength="82.8" lengthAdjust="spacingAndGlyphs">10.75&#160;&#160;[0.423]</text>
<line x1="805.7" y1="361.3" x2="897.7" y2="361.3" stroke="#1e1e1e" stroke-width="1.2"/>
<line x1="805.7" y1="517.8" x2="854.0" y2="517.8" stroke="#1e1e1e" stroke-width="1.2"/>
<line x1="816.8" y1="360.0" x2="816.8" y2="519.3" stroke="#1e1e1e" stroke-width="1.2"/>
<polygon points="816.8,362.0 819.4,370.0 814.2,370.0" fill="#1e1e1e"/>
<polygon points="816.8,517.0 814.2,509.0 819.4,509.0" fill="#1e1e1e"/>
<text x="811.5" y="467.1" font-family="Liberation Serif" font-weight="bold" font-size="16.6" fill="#1e1e1e" stroke="#1e1e1e" stroke-width="0.35" textLength="55.1" lengthAdjust="spacingAndGlyphs" transform="rotate(-90 811.5 467.1)">15.5±0.5</text>
<path d="M858.4,517 L858.4,384.5 Q858.4,382.1 861,382.1 L1004.2,382.1 Q1006.8,382.1 1006.8,384.5 L1006.8,517" fill="none" stroke="#1e1e1e" stroke-width="1.4"/>
<path d="M898.3,382.1 L900.8,365.7 Q902.3,361.7 907.3,361.7 Q912.3,361.7 913.8,365.7 L916.3,382.1" fill="none" stroke="#1e1e1e" stroke-width="1.3"/>
<path d="M902.8,363.9 Q907.3,361.4 911.8,363.9" stroke="#777" stroke-width="2.2" fill="none"/>
<path d="M948.6,382.1 L951.1,365.7 Q952.6,361.7 957.9,361.7 Q963.2,361.7 964.7,365.7 L967.2,382.1" fill="none" stroke="#1e1e1e" stroke-width="1.3"/>
<path d="M953.1,363.9 Q957.9,361.4 962.7,363.9" stroke="#777" stroke-width="2.2" fill="none"/>
<path d="M893.2,382.5 A2.3,2.3 0 0 0 897.8,382.5" fill="none" stroke="#1e1e1e" stroke-width="1.1"/>
<path d="M916.9,382.5 A2.3,2.3 0 0 0 921.5,382.5" fill="none" stroke="#1e1e1e" stroke-width="1.1"/>
<path d="M943.3,382.5 A2.3,2.3 0 0 0 947.9,382.5" fill="none" stroke="#1e1e1e" stroke-width="1.1"/>
<path d="M967.9,382.5 A2.3,2.3 0 0 0 972.5,382.5" fill="none" stroke="#1e1e1e" stroke-width="1.1"/>
<path d="M858.4,414.1 L843.6,415.9 Q838.6,417.1 838.6,424.4 Q838.6,431.7 843.6,432.9 L858.4,434.7" fill="none" stroke="#1e1e1e" stroke-width="1.3"/>
<path d="M840.2,419.1 L840.2,429.7" stroke="#777" stroke-width="2.2" fill="none"/>
<path d="M858.4,464.1 L843.6,465.9 Q838.6,467.1 838.6,474.6 Q838.6,482.1 843.6,483.3 L858.4,485.1" fill="none" stroke="#1e1e1e" stroke-width="1.3"/>
<path d="M840.2,469.1 L840.2,480.1" stroke="#777" stroke-width="2.2" fill="none"/>
<path d="M1006.8,414.1 L1021.8,415.9 Q1026.8,417.1 1026.8,424.4 Q1026.8,431.7 1021.8,432.9 L1006.8,434.7" fill="none" stroke="#1e1e1e" stroke-width="1.3"/>
<path d="M1025.2,419.1 L1025.2,429.7" stroke="#777" stroke-width="2.2" fill="none"/>
<path d="M1006.8,464.1 L1021.8,465.9 Q1026.8,467.1 1026.8,474.6 Q1026.8,482.1 1021.8,483.3 L1006.8,485.1" fill="none" stroke="#1e1e1e" stroke-width="1.3"/>
<path d="M1025.2,469.1 L1025.2,480.1" stroke="#777" stroke-width="2.2" fill="none"/>
<path d="M860.6,408.7 A2.3,2.3 0 0 1 860.6,413.3" fill="none" stroke="#1e1e1e" stroke-width="1.1"/>
<path d="M1004.6,408.7 A2.3,2.3 0 0 0 1004.6,413.3" fill="none" stroke="#1e1e1e" stroke-width="1.1"/>
<path d="M860.6,435.2 A2.3,2.3 0 0 1 860.6,439.8" fill="none" stroke="#1e1e1e" stroke-width="1.1"/>
<path d="M1004.6,435.2 A2.3,2.3 0 0 0 1004.6,439.8" fill="none" stroke="#1e1e1e" stroke-width="1.1"/>
<path d="M860.6,459.0 A2.3,2.3 0 0 1 860.6,463.6" fill="none" stroke="#1e1e1e" stroke-width="1.1"/>
<path d="M1004.6,459.0 A2.3,2.3 0 0 0 1004.6,463.6" fill="none" stroke="#1e1e1e" stroke-width="1.1"/>
<path d="M860.6,485.6 A2.3,2.3 0 0 1 860.6,490.2" fill="none" stroke="#1e1e1e" stroke-width="1.1"/>
<path d="M1004.6,485.6 A2.3,2.3 0 0 0 1004.6,490.2" fill="none" stroke="#1e1e1e" stroke-width="1.1"/>
<line x1="932.8" y1="370.4" x2="932.8" y2="520.3" stroke="#1e1e1e" stroke-width="1.2"/>
<path d="M872.4,441.5 L872.4,404.5 L993.0,404.5 L993.0,441.5" fill="none" stroke="#1e1e1e" stroke-width="1.5"/>
<path d="M877.2,437.2 L877.2,411.8 L988.4,411.8 L988.4,437.2" fill="none" stroke="#1e1e1e" stroke-width="1.3"/>
<line x1="872.6" y1="405.0" x2="877.2" y2="411.8" stroke="#1e1e1e" stroke-width="1"/>
<line x1="992.8" y1="405.0" x2="988.4" y2="411.8" stroke="#1e1e1e" stroke-width="1"/>
<path d="M896.3,411.8 L896.3,440.2 Q898.7,442 901.1,440.2 L901.1,411.8" fill="none" stroke="#1e1e1e" stroke-width="1.3"/>
<rect x="897.6" y="413" width="2.2" height="26" fill="#bbb"/>
<path d="M905.9,411.8 L905.9,440.2 Q908.3,442 910.7,440.2 L910.7,411.8" fill="none" stroke="#1e1e1e" stroke-width="1.3"/>
<rect x="907.2" y="413" width="2.2" height="26" fill="#bbb"/>
<path d="M915.5,411.8 L915.5,440.2 Q917.9,442 920.3,440.2 L920.3,411.8" fill="none" stroke="#1e1e1e" stroke-width="1.3"/>
<rect x="916.8" y="413" width="2.2" height="26" fill="#bbb"/>
<path d="M925.2,411.8 L925.2,440.2 Q927.6,442 930.0,440.2 L930.0,411.8" fill="none" stroke="#1e1e1e" stroke-width="1.3"/>
<rect x="926.5" y="413" width="2.2" height="26" fill="#bbb"/>
<path d="M934.8,411.8 L934.8,440.2 Q937.2,442 939.6,440.2 L939.6,411.8" fill="none" stroke="#1e1e1e" stroke-width="1.3"/>
<rect x="936.1" y="413" width="2.2" height="26" fill="#bbb"/>
<path d="M944.4,411.8 L944.4,440.2 Q946.8,442 949.2,440.2 L949.2,411.8" fill="none" stroke="#1e1e1e" stroke-width="1.3"/>
<rect x="945.7" y="413" width="2.2" height="26" fill="#bbb"/>
<path d="M954.0,411.8 L954.0,440.2 Q956.4,442 958.8,440.2 L958.8,411.8" fill="none" stroke="#1e1e1e" stroke-width="1.3"/>
<rect x="955.3" y="413" width="2.2" height="26" fill="#bbb"/>
<path d="M963.6,411.8 L963.6,440.2 Q966.0,442 968.4,440.2 L968.4,411.8" fill="none" stroke="#1e1e1e" stroke-width="1.3"/>
<rect x="964.9" y="413" width="2.2" height="26" fill="#bbb"/>
<rect x="931.2" y="411.8" width="3.4" height="29.2" fill="#111" stroke="#1e1e1e" stroke-width="0.5"/>
<text x="881.6" y="436.6" font-family="Liberation Serif" font-weight="normal" font-size="16" fill="#7a7a7a" stroke="#7a7a7a" stroke-width="0" text-anchor="start" textLength="13.4" lengthAdjust="spacingAndGlyphs">J1</text>
<text x="971.2" y="436.6" font-family="Liberation Serif" font-weight="normal" font-size="16" fill="#9a9080" stroke="#9a9080" stroke-width="0" text-anchor="start" textLength="14" lengthAdjust="spacingAndGlyphs">J8</text>
<polyline points="872.4,441.5 889.8,441.5 889.8,460.5 872.4,461.2" fill="none" stroke="#1e1e1e" stroke-width="1.3"/>
<polyline points="993.0,441.5 975.6,441.5 975.6,460.5 993.0,461.2" fill="none" stroke="#1e1e1e" stroke-width="1.3"/>
<rect x="877.2" y="437.2" width="11.8" height="4.3" fill="#ddd" stroke="#1e1e1e" stroke-width="1.0"/>
<rect x="977.0" y="437.2" width="11.4" height="4.3" fill="#ddd" stroke="#1e1e1e" stroke-width="1.0"/>
<line x1="889.8" y1="453.2" x2="975.6" y2="453.2" stroke="#1e1e1e" stroke-width="1.2"/>
<line x1="889.8" y1="460.3" x2="975.6" y2="460.3" stroke="#1e1e1e" stroke-width="1.2"/>
<polyline points="872.4,461.2 872.4,484.8" fill="none" stroke="#1e1e1e" stroke-width="1.3"/>
<polyline points="993.0,461.2 993.0,484.8" fill="none" stroke="#1e1e1e" stroke-width="1.3"/>
<rect x="872.4" y="461.2" width="20.6" height="4.3" fill="#eee" stroke="#1e1e1e" stroke-width="1.0"/>
<rect x="972.6" y="461.2" width="20.4" height="4.3" fill="#eee" stroke="#1e1e1e" stroke-width="1.0"/>
<rect x="877.6" y="465.7" width="25.4" height="12.0" fill="none" stroke="#1e1e1e" stroke-width="1.3"/>
<rect x="962.6" y="465.7" width="25.4" height="12.0" fill="none" stroke="#1e1e1e" stroke-width="1.3"/>
<line x1="872.4" y1="484.3" x2="877.6" y2="477.7" stroke="#1e1e1e" stroke-width="1"/>
<line x1="993.0" y1="484.3" x2="988.0" y2="477.7" stroke="#1e1e1e" stroke-width="1"/>
<line x1="903.0" y1="483.7" x2="962.6" y2="483.7" stroke="#1e1e1e" stroke-width="1.2"/>
<rect x="866.2" y="485.2" width="31.4" height="22.4" fill="none" stroke="#1e1e1e" stroke-width="1.6"/>
<rect x="867.8" y="486.8" width="28.4" height="19.2" fill="none" stroke="#1e1e1e" stroke-width="1.0"/>
<rect x="968.4" y="485.2" width="31.2" height="22.4" fill="none" stroke="#1e1e1e" stroke-width="1.6"/>
<rect x="969.8" y="486.8" width="28.2" height="19.2" fill="none" stroke="#1e1e1e" stroke-width="1.0"/>
<polyline points="897.6,494.5 902.6,489.8 903.0,477.7" fill="none" stroke="#1e1e1e" stroke-width="1.0"/>
<polyline points="968.4,494.5 963.0,489.8 962.6,477.7" fill="none" stroke="#1e1e1e" stroke-width="1.0"/>
<polyline points="866.2,507.6 907.6,507.6 908.8,513.8 957.4,513.8 958.6,507.6 999.6,507.6" fill="none" stroke="#1e1e1e" stroke-width="1.3"/>
<polyline points="902.6,495.0 912.7,495.0 912.7,509.7 951.6,509.7 951.6,495.0 962.4,495.0" fill="none" stroke="#1e1e1e" stroke-width="1.2"/>
<line x1="910.0" y1="512.0" x2="955.8" y2="512.0" stroke="#777" stroke-width="2.2"/>
<line x1="857.5" y1="517.3" x2="1007.5" y2="517.3" stroke="#1e1e1e" stroke-width="1.2"/>
<path d="M857.4,517.3 L857.4,551.6 Q858.9,554.6 860.6,551.6 L860.6,517.3" fill="none" stroke="#1e1e1e" stroke-width="1.1"/>
<path d="M1004.2,517.3 L1004.2,551.6 Q1005.9,554.6 1007.6,551.6 L1007.6,517.3" fill="none" stroke="#1e1e1e" stroke-width="1.1"/>
<path d="M864.5,517.3 L864.5,550.6 Q864.5,554.6 868.5,554.6 L890.0,554.6 Q894.0,554.6 894.0,550.6 L894.0,517.3" fill="none" stroke="#1e1e1e" stroke-width="1.2"/>
<path d="M971.8,517.3 L971.8,550.6 Q971.8,554.6 975.8,554.6 L997.0,554.6 Q1001.0,554.6 1001.0,550.6 L1001.0,517.3" fill="none" stroke="#1e1e1e" stroke-width="1.2"/>
<line x1="870.5" y1="517.3" x2="870.5" y2="552.6" stroke="#1e1e1e" stroke-width="1.0"/>
<line x1="880.8" y1="517.3" x2="880.8" y2="552.6" stroke="#1e1e1e" stroke-width="1.0"/>
<line x1="996.0" y1="517.3" x2="996.0" y2="552.6" stroke="#1e1e1e" stroke-width="1.0"/>
<line x1="985.6" y1="517.3" x2="985.6" y2="552.6" stroke="#1e1e1e" stroke-width="1.0"/>
<rect x="876.8" y="517.8" width="3.4" height="34.8" fill="#666" stroke="#1e1e1e" stroke-width="0.8"/>
<rect x="986.5" y="517.8" width="3.5" height="34.8" fill="#444" stroke="#1e1e1e" stroke-width="0.8"/>
<line x1="878.5" y1="509.3" x2="878.5" y2="558.6" stroke="#1e1e1e" stroke-width="1.0"/>
<line x1="988.2" y1="511.3" x2="988.2" y2="560.6" stroke="#1e1e1e" stroke-width="1.0"/>
<path d="M895.2,517.3 L895.2,552.6 Q897.2,555.1 899.2,552.6 L899.2,517.3" fill="none" stroke="#1e1e1e" stroke-width="1.1"/>
<path d="M901.2,517.3 L901.2,552.6 Q903.4000000000001,555.1 905.6,552.6 L905.6,517.3" fill="none" stroke="#1e1e1e" stroke-width="1.1"/>
<path d="M912.3,517.3 L912.3,552.6 Q914.8,555.1 917.3,552.6 L917.3,517.3" fill="none" stroke="#1e1e1e" stroke-width="1.1"/>
<path d="M924.5,517.3 L924.5,552.6 Q926.75,555.1 929.0,552.6 L929.0,517.3" fill="none" stroke="#1e1e1e" stroke-width="1.1"/>
<path d="M936.2,517.3 L936.2,552.6 Q938.7,555.1 941.2,552.6 L941.2,517.3" fill="none" stroke="#1e1e1e" stroke-width="1.1"/>
<path d="M947.9,517.3 L947.9,552.6 Q950.45,555.1 953.0,552.6 L953.0,517.3" fill="none" stroke="#1e1e1e" stroke-width="1.1"/>
<path d="M959.6,517.3 L959.6,552.6 Q961.7,555.1 963.8,552.6 L963.8,517.3" fill="none" stroke="#1e1e1e" stroke-width="1.1"/>
<path d="M965.8,517.3 L965.8,552.6 Q967.9,555.1 970.0,552.6 L970.0,517.3" fill="none" stroke="#1e1e1e" stroke-width="1.1"/>
<line x1="927.3" y1="556.0" x2="927.3" y2="577.6" stroke="#1e1e1e" stroke-width="1.1"/>
<line x1="938.9" y1="556.0" x2="938.9" y2="577.6" stroke="#1e1e1e" stroke-width="1.1"/>
<line x1="910.6" y1="577.1" x2="954.6" y2="577.1" stroke="#1e1e1e" stroke-width="1.2"/>
<polygon points="927.3,577.1 919.3,579.7 919.3,574.5" fill="#1e1e1e"/>
<polygon points="938.9,577.1 946.9,574.5 946.9,579.7" fill="#1e1e1e"/>
<text x="956.8" y="581.4" font-family="Liberation Serif" font-weight="bold" font-size="16.6" fill="#1e1e1e" stroke="#1e1e1e" stroke-width="0.35" text-anchor="start" textLength="75.4" lengthAdjust="spacingAndGlyphs">1.27&#160;&#160;[0.050]</text>
<path d="M650,728.6 L439.8,728.6 Q436.8,728.6 436.8,731.6 L436.8,886 Q436.8,889 439.8,889 L650,889" fill="none" stroke="#1e1e1e" stroke-width="1.6"/>
<line x1="439.6" y1="731.5" x2="439.6" y2="886.0" stroke="#555" stroke-width="1.3"/>
<rect x="437.4" y="727.0" width="64.6" height="2.6" fill="#111"/>
<rect x="437.4" y="729.4" width="79.9" height="2.4" fill="#444"/>
<rect x="439.8" y="731.8" width="40.6" height="3.2" fill="#8a8a8a"/>
<path d="M439.8,735.0 L480.4,735.0 L482.2,731.8" fill="none" stroke="#333" stroke-width="1.0"/>
<line x1="506.7" y1="725.4" x2="506.7" y2="735.7" stroke="#333" stroke-width="1.0"/>
<rect x="437.4" y="887.8" width="64.6" height="2.6" fill="#111"/>
<rect x="437.4" y="885.6" width="79.9" height="2.4" fill="#444"/>
<rect x="439.8" y="882.4" width="40.6" height="3.2" fill="#8a8a8a"/>
<path d="M439.8,882.4 L480.4,882.4 L482.2,885.6" fill="none" stroke="#333" stroke-width="1.0"/>
<line x1="506.7" y1="892.0" x2="506.7" y2="881.7" stroke="#333" stroke-width="1.0"/>
<line x1="439.7" y1="741.1" x2="454.6" y2="741.1" stroke="#1e1e1e" stroke-width="1.2"/>
<path d="M517.3,731.4 L517.3,740 L520.7,740 Q527,740 530,736.5 Q533,734 535.6,734" fill="none" stroke="#1e1e1e" stroke-width="1.2"/>
<path d="M517.3,886.5 L517.3,877.4 L522.5,877.4 Q528,879 531,881 Q533.5,882.6 536,882.6" fill="none" stroke="#1e1e1e" stroke-width="1.2"/>
<path d="M535.6,734.1 Q537.1,747.1 550.1,751.1 Q537.1,755.1 535.6,767.6 Q534.1,755.1 521.1,751.1 Q534.1,747.1 535.6,734.1 Z" fill="none" stroke="#1e1e1e" stroke-width="1.3"/>
<path d="M536.1,850.3 Q537.6,862.3 550.6,866.3 Q537.6,870.3 536.1,882.8 Q534.6,870.3 521.6,866.3 Q534.6,862.3 536.1,850.3 Z" fill="none" stroke="#1e1e1e" stroke-width="1.3"/>
<rect x="487.3" y="746.4" width="77.0" height="9.8" fill="none" stroke="#1e1e1e" stroke-width="1.3"/>
<line x1="483.0" y1="751.3" x2="660.0" y2="751.3" stroke="#1e1e1e" stroke-width="1.2"/>
<rect x="486.2" y="861.2" width="78.1" height="8.9" fill="none" stroke="#1e1e1e" stroke-width="1.3"/>
<rect x="487" y="864.5" width="77" height="4.5" fill="#888"/>
<line x1="535.6" y1="725.0" x2="535.6" y2="781.5" stroke="#1e1e1e" stroke-width="1.1"/>
<line x1="536.1" y1="840.0" x2="536.1" y2="895.0" stroke="#1e1e1e" stroke-width="1.1"/>
<line x1="490.0" y1="869.3" x2="660.0" y2="869.3" stroke="#1e1e1e" stroke-width="1.0"/>
<line x1="416.6" y1="808.7" x2="646.0" y2="808.7" stroke="#1e1e1e" stroke-width="1.2"/>
<path d="M439.8,740.4 L454.8,740.4 L454.8,757.5 L476,759.0 Q478.3,759.3 478.3,761.5 L478.3,767.0 Q478.3,769.3 476,769.5 L455.5,771.4 Q452.3,772.0 452.3,776.5 Q452.3,782.7 455.5,783.2 L476,784.7 Q478.3,785.0 478.3,787.2 L478.3,792.7 Q478.3,795.0 476,795.2 L455.5,797.1 Q452.3,797.7 452.3,802.2 Q452.3,808.4 455.5,808.9 L476,810.1 Q478.3,810.4 478.3,812.6 L478.3,818.1 Q478.3,820.4 476,820.6 L455.5,822.5 Q452.3,823.1 452.3,827.6 Q452.3,833.8 455.5,834.3 L476,835.7 Q478.3,836.0 478.3,838.2 L478.3,843.7 Q478.3,846.0 476,846.2 L455.5,848.1 Q452.3,848.7 452.3,853.2 Q452.3,859.4 455.5,859.9 L476,861.0 Q478.3,861.3 478.3,863.5 L478.3,875.3 L439.8,875.3" fill="none" stroke="#1e1e1e" stroke-width="1.4"/>
<circle cx="476.3" cy="764.5" r="1.6" fill="none" stroke="#333" stroke-width="0.9"/>
<circle cx="476.3" cy="790.2" r="1.6" fill="none" stroke="#333" stroke-width="0.9"/>
<circle cx="476.3" cy="815.6" r="1.6" fill="none" stroke="#333" stroke-width="0.9"/>
<circle cx="476.3" cy="841.2" r="1.6" fill="none" stroke="#333" stroke-width="0.9"/>
<circle cx="476.3" cy="866.5" r="1.6" fill="none" stroke="#333" stroke-width="0.9"/>
<circle cx="453.7" cy="776.5" r="1.6" fill="none" stroke="#333" stroke-width="0.9"/>
<circle cx="453.7" cy="802.2" r="1.6" fill="none" stroke="#333" stroke-width="0.9"/>
<circle cx="453.7" cy="827.6" r="1.6" fill="none" stroke="#333" stroke-width="0.9"/>
<circle cx="453.7" cy="853.2" r="1.6" fill="none" stroke="#333" stroke-width="0.9"/>
<line x1="445.0" y1="827.8" x2="459.6" y2="827.8" stroke="#666" stroke-width="0.9"/>
<path d="M611.2,889 L611.2,877.6 L635.8,877.6" fill="none" stroke="#1e1e1e" stroke-width="1.1"/>
<path d="M611.2,728.6 L611.2,738.7 L635.8,738.7" fill="none" stroke="#1e1e1e" stroke-width="1.1"/>
<line x1="611.2" y1="738.7" x2="611.2" y2="877.6" stroke="#1e1e1e" stroke-width="1.2"/>
<path d="M631,732 Q635.8,732 635.8,738 L635.8,879 Q635.8,885.5 631,885.5" fill="none" stroke="#1e1e1e" stroke-width="1.6"/>
<rect x="632" y="788" width="4.5" height="41" rx="2" fill="#777"/>
<line x1="626.0" y1="808.7" x2="646.0" y2="808.7" stroke="#1e1e1e" stroke-width="1.0"/>
<path d="M569,712.6 L602.9,712.6 Q622,714 631,728.6" fill="none" stroke="#555" stroke-width="2.6"/>
<path d="M565.4,711.8 A2.2,2.2 0 1 1 569,710" fill="none" stroke="#333" stroke-width="1.1"/>
<line x1="569.0" y1="708.4" x2="791.7" y2="708.4" stroke="#1e1e1e" stroke-width="1.3"/>
<path d="M569,905 L602.9,905 Q622,903.6 631,889" fill="none" stroke="#555" stroke-width="2.6"/>
<path d="M565.4,905.8 A2.2,2.2 0 1 0 569,907.6" fill="none" stroke="#333" stroke-width="1.1"/>
<line x1="569.0" y1="909.2" x2="791.7" y2="909.2" stroke="#1e1e1e" stroke-width="1.3"/>
<rect x="585.6" y="742.6" width="25.6" height="5.8" fill="#777"/>
<circle cx="583.6" cy="745.5" r="2.9" fill="#fff" stroke="#222" stroke-width="1.2"/>
<line x1="577.6" y1="745.5" x2="660.0" y2="745.5" stroke="#1e1e1e" stroke-width="1.1"/>
<rect x="570.0" y="768.3" width="41.2" height="5.8" fill="#777"/>
<circle cx="568.0" cy="771.2" r="2.9" fill="#fff" stroke="#222" stroke-width="1.2"/>
<line x1="562.0" y1="771.2" x2="660.0" y2="771.2" stroke="#1e1e1e" stroke-width="1.1"/>
<rect x="584.8" y="843.7" width="26.4" height="5.8" fill="#777"/>
<circle cx="582.8" cy="846.6" r="2.9" fill="#fff" stroke="#222" stroke-width="1.2"/>
<line x1="576.8" y1="846.6" x2="660.0" y2="846.6" stroke="#1e1e1e" stroke-width="1.1"/>
<rect x="569.7" y="869.5" width="41.5" height="5.8" fill="#777"/>
<circle cx="567.7" cy="872.4" r="2.9" fill="#fff" stroke="#222" stroke-width="1.2"/>
<line x1="561.7" y1="872.4" x2="660.0" y2="872.4" stroke="#1e1e1e" stroke-width="1.1"/>
<line x1="636.0" y1="728.7" x2="751.7" y2="728.7" stroke="#1e1e1e" stroke-width="1.1"/>
<line x1="636.0" y1="889.3" x2="751.7" y2="889.3" stroke="#1e1e1e" stroke-width="1.1"/>
<line x1="611.0" y1="744.7" x2="728.0" y2="744.7" stroke="#1e1e1e" stroke-width="1.1"/>
<line x1="611.0" y1="872.8" x2="728.0" y2="872.8" stroke="#1e1e1e" stroke-width="1.1"/>
<line x1="640.0" y1="751.2" x2="697.0" y2="751.2" stroke="#1e1e1e" stroke-width="1.1"/>
<line x1="640.0" y1="866.8" x2="697.0" y2="866.8" stroke="#1e1e1e" stroke-width="1.1"/>
<line x1="611.0" y1="770.4" x2="665.0" y2="770.4" stroke="#1e1e1e" stroke-width="1.1"/>
<line x1="611.0" y1="846.4" x2="665.0" y2="846.4" stroke="#1e1e1e" stroke-width="1.1"/>
<line x1="780.3" y1="706.8" x2="780.3" y2="910.7" stroke="#1e1e1e" stroke-width="1.2"/>
<polygon points="780.3,709.0 782.9,717.0 777.7,717.0" fill="#1e1e1e"/>
<polygon points="780.3,909.0 777.7,901.0 782.9,901.0" fill="#1e1e1e"/>
<text x="775.5" y="837.8" font-family="Liberation Serif" font-weight="bold" font-size="16.6" fill="#1e1e1e" stroke="#1e1e1e" stroke-width="0.35" textLength="55.2" lengthAdjust="spacingAndGlyphs" transform="rotate(-90 775.5 837.8)">19.7±1.0</text>
<line x1="750.3" y1="726.0" x2="750.3" y2="770.5" stroke="#1e1e1e" stroke-width="1.2"/>
<line x1="750.3" y1="846.5" x2="750.3" y2="891.3" stroke="#1e1e1e" stroke-width="1.2"/>
<polygon points="750.3,729.2 752.9,737.2 747.7,737.2" fill="#1e1e1e"/>
<polygon points="750.3,889.0 747.7,881.0 752.9,881.0" fill="#1e1e1e"/>
<text x="756.4" y="837.0" font-family="Liberation Serif" font-weight="bold" font-size="16.6" fill="#1e1e1e" stroke="#1e1e1e" stroke-width="0.35" textLength="66.5" lengthAdjust="spacingAndGlyphs" transform="rotate(-90 756.4 837.0)">15.9±0.25</text>
<line x1="750.3" y1="839.4" x2="750.3" y2="846.2" stroke="#8c9096" stroke-width="1.5"/>
<line x1="747.4" y1="841.1" x2="753.2" y2="844.5" stroke="#8c9096" stroke-width="1.5"/>
<line x1="753.2" y1="841.1" x2="747.4" y2="844.5" stroke="#8c9096" stroke-width="1.5"/>
<line x1="725.3" y1="741.6" x2="725.3" y2="762.0" stroke="#1e1e1e" stroke-width="1.2"/>
<line x1="725.3" y1="855.5" x2="725.3" y2="874.6" stroke="#1e1e1e" stroke-width="1.2"/>
<polygon points="725.3,745.0 727.9,753.0 722.7,753.0" fill="#1e1e1e"/>
<polygon points="725.3,872.3 722.7,864.3 727.9,864.3" fill="#1e1e1e"/>
<text x="729.3" y="853.9" font-family="Liberation Serif" font-weight="bold" font-size="16.6" fill="#1e1e1e" stroke="#1e1e1e" stroke-width="0.35" textLength="90.3" lengthAdjust="spacingAndGlyphs" transform="rotate(-90 729.3 853.9)">12.65&#160;&#160;[0.498]</text>
<line x1="693.6" y1="735.2" x2="693.6" y2="752.0" stroke="#1e1e1e" stroke-width="1.2"/>
<line x1="693.6" y1="862.0" x2="693.6" y2="882.3" stroke="#1e1e1e" stroke-width="1.2"/>
<polygon points="693.6,751.6 691.0,743.6 696.2,743.6" fill="#1e1e1e"/>
<polygon points="693.6,866.4 696.2,874.4 691.0,874.4" fill="#1e1e1e"/>
<text x="699.4" y="861.7" font-family="Liberation Serif" font-weight="bold" font-size="16.6" fill="#1e1e1e" stroke="#1e1e1e" stroke-width="0.35" textLength="108.5" lengthAdjust="spacingAndGlyphs" transform="rotate(-90 699.4 861.7)">11.43&#160;[0.450]±0.1</text>
<line x1="662.1" y1="752.0" x2="662.1" y2="915.0" stroke="#1e1e1e" stroke-width="1.2"/>
<polygon points="662.1,770.2 659.5,762.2 664.7,762.2" fill="#1e1e1e"/>
<polygon points="662.1,846.6 664.7,854.6 659.5,854.6" fill="#1e1e1e"/>
<text x="668.0" y="1001.0" font-family="Liberation Serif" font-weight="bold" font-size="16.6" fill="#1e1e1e" stroke="#1e1e1e" stroke-width="0.35" textLength="85.1" lengthAdjust="spacingAndGlyphs" transform="rotate(-90 668.0 1001.0)">7.57&#160;&#160;[0.298]</text>
<line x1="450.9" y1="701.6" x2="450.9" y2="765.9" stroke="#1e1e1e" stroke-width="1.0"/>
<line x1="454.6" y1="701.6" x2="454.6" y2="765.9" stroke="#1e1e1e" stroke-width="1.0"/>
<line x1="435.4" y1="714.9" x2="470.9" y2="714.9" stroke="#1e1e1e" stroke-width="1.2"/>
<polygon points="450.3,714.9 442.3,717.5 442.3,712.3" fill="#1e1e1e"/>
<polygon points="455.2,714.9 463.2,712.3 463.2,717.5" fill="#1e1e1e"/>
<text x="459.3" y="699.2" font-family="Liberation Serif" font-weight="bold" font-size="16.6" fill="#1e1e1e" stroke="#1e1e1e" stroke-width="0.35" text-anchor="start" textLength="26.2" lengthAdjust="spacingAndGlyphs">0.35</text>
<line x1="520.7" y1="696.0" x2="520.7" y2="741.5" stroke="#1e1e1e" stroke-width="1.0"/>
<line x1="551.8" y1="696.0" x2="551.8" y2="741.6" stroke="#1e1e1e" stroke-width="1.0"/>
<line x1="520.7" y1="708.3" x2="551.8" y2="708.3" stroke="#1e1e1e" stroke-width="1.2"/>
<polygon points="521.4,708.3 529.4,705.7 529.4,710.9" fill="#1e1e1e"/>
<polygon points="551.1,708.3 543.1,710.9 543.1,705.7" fill="#1e1e1e"/>
<text x="526.8" y="702.8" font-family="Liberation Serif" font-weight="bold" font-size="16.6" fill="#1e1e1e" stroke="#1e1e1e" stroke-width="0.35" text-anchor="start" textLength="18.6" lengthAdjust="spacingAndGlyphs">3.2</text>
<line x1="413.2" y1="727.5" x2="437.6" y2="727.5" stroke="#1e1e1e" stroke-width="1.0"/>
<line x1="413.2" y1="730.6" x2="437.6" y2="730.6" stroke="#1e1e1e" stroke-width="1.0"/>
<line x1="423.9" y1="709.4" x2="423.9" y2="748.2" stroke="#1e1e1e" stroke-width="1.2"/>
<polygon points="423.9,727.2 421.3,719.2 426.5,719.2" fill="#1e1e1e"/>
<polygon points="423.9,731.0 426.5,739.0 421.3,739.0" fill="#1e1e1e"/>
<text x="411.5" y="741.5" font-family="Liberation Serif" font-weight="bold" font-size="16.6" fill="#1e1e1e" stroke="#1e1e1e" stroke-width="0.35" textLength="25.5" lengthAdjust="spacingAndGlyphs" transform="rotate(-90 411.5 741.5)">0.35</text>
<line x1="396.6" y1="775.9" x2="445.4" y2="775.9" stroke="#1e1e1e" stroke-width="1.0"/>
<line x1="396.6" y1="779.4" x2="445.4" y2="779.4" stroke="#1e1e1e" stroke-width="1.0"/>
<line x1="407.2" y1="756.0" x2="407.2" y2="797.0" stroke="#1e1e1e" stroke-width="1.2"/>
<polygon points="407.2,775.5 404.6,767.5 409.8,767.5" fill="#1e1e1e"/>
<polygon points="407.2,779.8 409.8,787.8 404.6,787.8" fill="#1e1e1e"/>
<text x="392.1" y="785.8" font-family="Liberation Serif" font-weight="bold" font-size="16.6" fill="#1e1e1e" stroke="#1e1e1e" stroke-width="0.35" textLength="18.8" lengthAdjust="spacingAndGlyphs" transform="rotate(-90 392.1 785.8)">0.5</text>
<line x1="405.5" y1="869.0" x2="437.0" y2="869.0" stroke="#1e1e1e" stroke-width="1.0"/>
<line x1="405.5" y1="873.4" x2="490.0" y2="873.4" stroke="#1e1e1e" stroke-width="1.0"/>
<line x1="416.6" y1="852.3" x2="416.6" y2="892.2" stroke="#1e1e1e" stroke-width="1.2"/>
<polygon points="416.6,868.6 414.0,860.6 419.2,860.6" fill="#1e1e1e"/>
<polygon points="416.6,873.8 419.2,881.8 414.0,881.8" fill="#1e1e1e"/>
<text x="400.9" y="882.3" font-family="Liberation Serif" font-weight="bold" font-size="16.6" fill="#1e1e1e" stroke="#1e1e1e" stroke-width="0.35" textLength="18.9" lengthAdjust="spacingAndGlyphs" transform="rotate(-90 400.9 882.3)">0.5</text>
<line x1="565.7" y1="881.2" x2="565.7" y2="925.5" stroke="#1e1e1e" stroke-width="1.0"/>
<line x1="570.6" y1="881.2" x2="570.6" y2="925.5" stroke="#1e1e1e" stroke-width="1.0"/>
<line x1="549.6" y1="913.8" x2="586.1" y2="913.8" stroke="#1e1e1e" stroke-width="1.2"/>
<polygon points="565.2,913.8 557.2,916.4 557.2,911.2" fill="#1e1e1e"/>
<polygon points="571.1,913.8 579.1,911.2 579.1,916.4" fill="#1e1e1e"/>
<text x="559.3" y="942.1" font-family="Liberation Serif" font-weight="bold" font-size="16.6" fill="#1e1e1e" stroke="#1e1e1e" stroke-width="0.35" text-anchor="start" textLength="18.2" lengthAdjust="spacingAndGlyphs">0.5</text>
<path d="M898.3,728.5 L900.8,712.2 Q902.3,708.2 907.3,708.2 Q912.3,708.2 913.8,712.2 L916.3,728.5" fill="none" stroke="#1e1e1e" stroke-width="1.3"/>
<path d="M902.8,710.4000000000001 Q907.3,707.9000000000001 911.8,710.4000000000001" stroke="#777" stroke-width="2.2" fill="none"/>
<path d="M948.6,728.5 L951.1,712.2 Q952.6,708.2 957.9,708.2 Q963.2,708.2 964.7,712.2 L967.2,728.5" fill="none" stroke="#1e1e1e" stroke-width="1.3"/>
<path d="M953.1,710.4000000000001 Q957.9,707.9000000000001 962.7,710.4000000000001" stroke="#777" stroke-width="2.2" fill="none"/>
<path d="M858.4,760.8 L843.6,762.6 Q838.6,763.8 838.6,770.8 Q838.6,777.8 843.6,779.0 L858.4,780.8" fill="none" stroke="#1e1e1e" stroke-width="1.3"/>
<path d="M840.2,765.8 L840.2,775.8" stroke="#777" stroke-width="2.2" fill="none"/>
<path d="M858.4,810.8 L843.6,812.6 Q838.6,813.8 838.6,820.9 Q838.6,828.0 843.6,829.2 L858.4,831.0" fill="none" stroke="#1e1e1e" stroke-width="1.3"/>
<path d="M840.2,815.8 L840.2,826.0" stroke="#777" stroke-width="2.2" fill="none"/>
<path d="M1006.8,760.8 L1021.8,762.6 Q1026.8,763.8 1026.8,770.8 Q1026.8,777.8 1021.8,779.0 L1006.8,780.8" fill="none" stroke="#1e1e1e" stroke-width="1.3"/>
<path d="M1025.2,765.8 L1025.2,775.8" stroke="#777" stroke-width="2.2" fill="none"/>
<path d="M1006.8,810.8 L1021.8,812.6 Q1026.8,813.8 1026.8,820.9 Q1026.8,828.0 1021.8,829.2 L1006.8,831.0" fill="none" stroke="#1e1e1e" stroke-width="1.3"/>
<path d="M1025.2,815.8 L1025.2,826.0" stroke="#777" stroke-width="2.2" fill="none"/>
<line x1="857.5" y1="865.3" x2="1007.5" y2="865.3" stroke="#1e1e1e" stroke-width="1.2"/>
<path d="M857.4,865.3 L857.4,898.3 Q858.9,901.3 860.6,898.3 L860.6,865.3" fill="none" stroke="#1e1e1e" stroke-width="1.1"/>
<path d="M1004.2,865.3 L1004.2,898.3 Q1005.9,901.3 1007.6,898.3 L1007.6,865.3" fill="none" stroke="#1e1e1e" stroke-width="1.1"/>
<path d="M864.5,865.3 L864.5,897.3 Q864.5,901.3 868.5,901.3 L890.0,901.3 Q894.0,901.3 894.0,897.3 L894.0,865.3" fill="none" stroke="#1e1e1e" stroke-width="1.2"/>
<path d="M971.8,865.3 L971.8,897.3 Q971.8,901.3 975.8,901.3 L997.0,901.3 Q1001.0,901.3 1001.0,897.3 L1001.0,865.3" fill="none" stroke="#1e1e1e" stroke-width="1.2"/>
<line x1="870.5" y1="865.3" x2="870.5" y2="899.3" stroke="#1e1e1e" stroke-width="1.0"/>
<line x1="880.8" y1="865.3" x2="880.8" y2="899.3" stroke="#1e1e1e" stroke-width="1.0"/>
<line x1="996.0" y1="865.3" x2="996.0" y2="899.3" stroke="#1e1e1e" stroke-width="1.0"/>
<line x1="985.6" y1="865.3" x2="985.6" y2="899.3" stroke="#1e1e1e" stroke-width="1.0"/>
<rect x="876.8" y="865.8" width="3.4" height="33.5" fill="#666" stroke="#1e1e1e" stroke-width="0.8"/>
<rect x="986.5" y="865.8" width="3.5" height="33.5" fill="#444" stroke="#1e1e1e" stroke-width="0.8"/>
<line x1="878.5" y1="857.3" x2="878.5" y2="905.3" stroke="#1e1e1e" stroke-width="1.0"/>
<line x1="988.2" y1="859.3" x2="988.2" y2="907.3" stroke="#1e1e1e" stroke-width="1.0"/>
<path d="M895.2,865.3 L895.2,899.3 Q897.2,901.8 899.2,899.3 L899.2,865.3" fill="none" stroke="#1e1e1e" stroke-width="1.1"/>
<path d="M901.2,865.3 L901.2,899.3 Q903.4000000000001,901.8 905.6,899.3 L905.6,865.3" fill="none" stroke="#1e1e1e" stroke-width="1.1"/>
<path d="M912.3,865.3 L912.3,899.3 Q914.8,901.8 917.3,899.3 L917.3,865.3" fill="none" stroke="#1e1e1e" stroke-width="1.1"/>
<path d="M924.5,865.3 L924.5,899.3 Q926.75,901.8 929.0,899.3 L929.0,865.3" fill="none" stroke="#1e1e1e" stroke-width="1.1"/>
<path d="M936.2,865.3 L936.2,899.3 Q938.7,901.8 941.2,899.3 L941.2,865.3" fill="none" stroke="#1e1e1e" stroke-width="1.1"/>
<path d="M947.9,865.3 L947.9,899.3 Q950.45,901.8 953.0,899.3 L953.0,865.3" fill="none" stroke="#1e1e1e" stroke-width="1.1"/>
<path d="M959.6,865.3 L959.6,899.3 Q961.7,901.8 963.8,899.3 L963.8,865.3" fill="none" stroke="#1e1e1e" stroke-width="1.1"/>
<path d="M965.8,865.3 L965.8,899.3 Q967.9,901.8 970.0,899.3 L970.0,865.3" fill="none" stroke="#1e1e1e" stroke-width="1.1"/>
<rect x="860.3" y="730.6" width="146.0" height="132.8" rx="1.5" fill="#fff" stroke="#3a5c8a" stroke-width="4.6"/>
</svg>
</body></html>
